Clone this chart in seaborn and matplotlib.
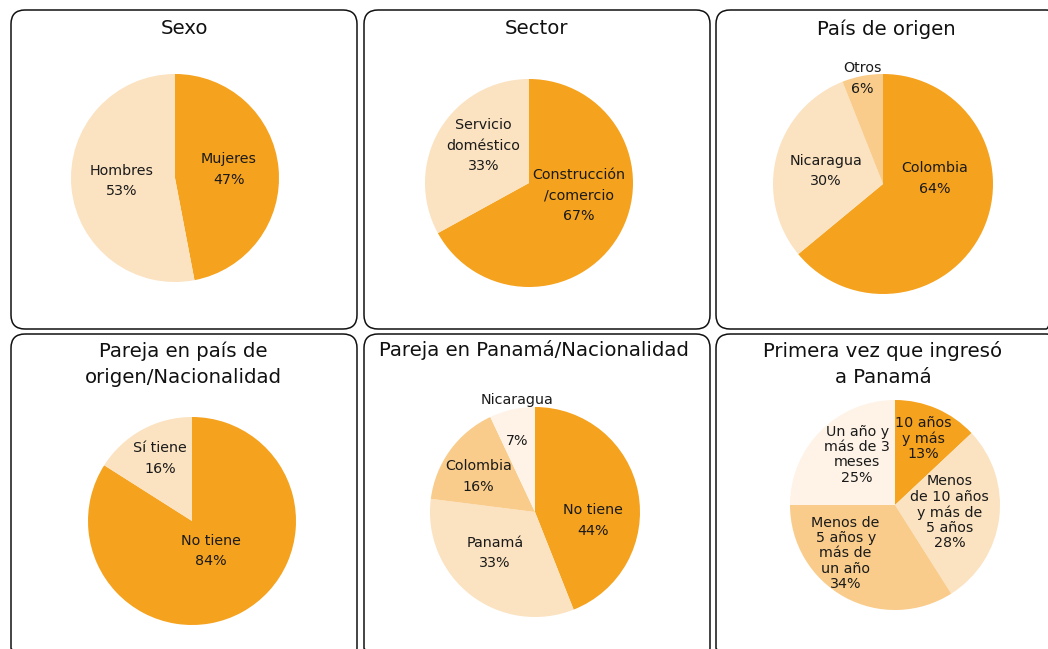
import numpy as np
import seaborn as sns
import matplotlib
matplotlib.use("Agg")
import matplotlib.pyplot as plt
from matplotlib.patches import FancyBboxPatch

# datos (porcentajes)
titles = ["Sexo", "Sector", "País de origen",
          "Pareja en país de\norigen/Nacionalidad",
          "Pareja en Panamá/Nacionalidad",
          "Primera vez que ingresó\na Panamá"]

sexo_labels = ["Mujeres", "Hombres"]
sexo_values = [47, 53]

sector_labels = ["Construcción\n/comercio", "Servicio\ndoméstico"]
sector_values = [67, 33]

origen_labels = ["Colombia", "Nicaragua", "Otros"]
origen_values = [64, 30, 6]

pareja_origen_labels = ["No tiene", "Sí tiene"]
pareja_origen_values = [84, 16]

pareja_panama_labels = ["No tiene", "Panamá", "Colombia", "Nicaragua\n"]
pareja_panama_values = [44, 33, 16, 7]

ingreso_labels = ["10 años\ny más", "Menos\nde 10 años\ny más de\n5 años",
                  "Menos de\n5 años y\nmás de\nun año", "Un año y\nmás de 3\nmeses"]
ingreso_values = [13, 28, 34, 25]

# colores
dark = "#F5A21E"
light = "#FBE2C0"
medium = "#F9CC8B"
vlight = "#FEF3E6"

sns.set_theme(style="white")
plt.rcParams['font.family'] = ['DejaVu Sans']

W, H = 1048, 649
fig = plt.figure(figsize=(W / 100, H / 100), dpi=100)

bg = fig.add_axes([0, 0, 1, 1])
bg.set_xlim(0, W)
bg.set_ylim(H, 0)
bg.axis("off")

# cajas redondeadas (x0, y0, x1, y1 en pixeles)
boxes = [(11, 10, 357, 329), (364, 10, 710, 329), (716, 10, 1060, 329),
         (11, 334, 357, 662), (364, 334, 710, 662), (716, 334, 1060, 662)]
for x0, y0, x1, y1 in boxes:
    bg.add_patch(FancyBboxPatch((x0 + 14, y0 + 14), x1 - x0 - 28, y1 - y0 - 28,
                                boxstyle="round,pad=14", fc="none", ec="#111111",
                                lw=1.1, clip_on=False))

# titulos
title_pos = [(184, 29), (537, 29), (886, 29), (183, 364), (534, 350), (883, 364)]
for t, (x, y) in zip(titles, title_pos):
    bg.text(x, y, t, ha="center", va="center", fontsize=14.2, color="#111111",
            linespacing=1.45)

charts = [
    (sexo_labels, sexo_values, [dark, light], (175, 178, 104),
     [(0.52, 0.08), (-0.51, -0.03)], 1.6),
    (sector_labels, sector_values, [dark, light], (529, 183, 104),
     [(0.48, -0.12), (-0.44, 0.36)], 1.6),
    (origen_labels, origen_values, [dark, light, medium], (883, 184, 110),
     [(0.47, 0.05), (-0.52, 0.12), (-0.19, 0.96)], 1.6),
    (pareja_origen_labels, pareja_origen_values, [dark, light], (192, 521, 104),
     [(0.18, -0.29), (-0.31, 0.60)], 1.6),
    (pareja_panama_labels, pareja_panama_values, [dark, light, medium, vlight],
     (535, 512, 105),
     [(0.55, -0.08), (-0.38, -0.39), (-0.54, 0.34), (-0.17, 0.87)], 1.6),
    (ingreso_labels, ingreso_values, [dark, light, medium, vlight], (895, 505, 105),
     [(0.27, 0.63), (0.52, -0.07), (-0.47, -0.46), (-0.36, 0.48)], 1.12),
]

for labels, values, colors, (cx, cy, r), lpos, ls in charts:
    ax = fig.add_axes([(cx - r) / W, 1 - (cy + r) / H, 2 * r / W, 2 * r / H])
    ax.pie(values, colors=colors, startangle=90, counterclock=False,
           wedgeprops=dict(linewidth=0))
    ax.set_xlim(-1, 1)
    ax.set_ylim(-1, 1)
    ax.set_aspect("equal")
    ax.axis("off")
    for lab, v, (lx, ly) in zip(labels, values, lpos):
        ax.text(lx, ly, f"{lab}\n{v}%", ha="center", va="center", fontsize=10.3,
                color="#1a1a1a", linespacing=ls, clip_on=False)

fig.savefig("out.png", dpi=100)
